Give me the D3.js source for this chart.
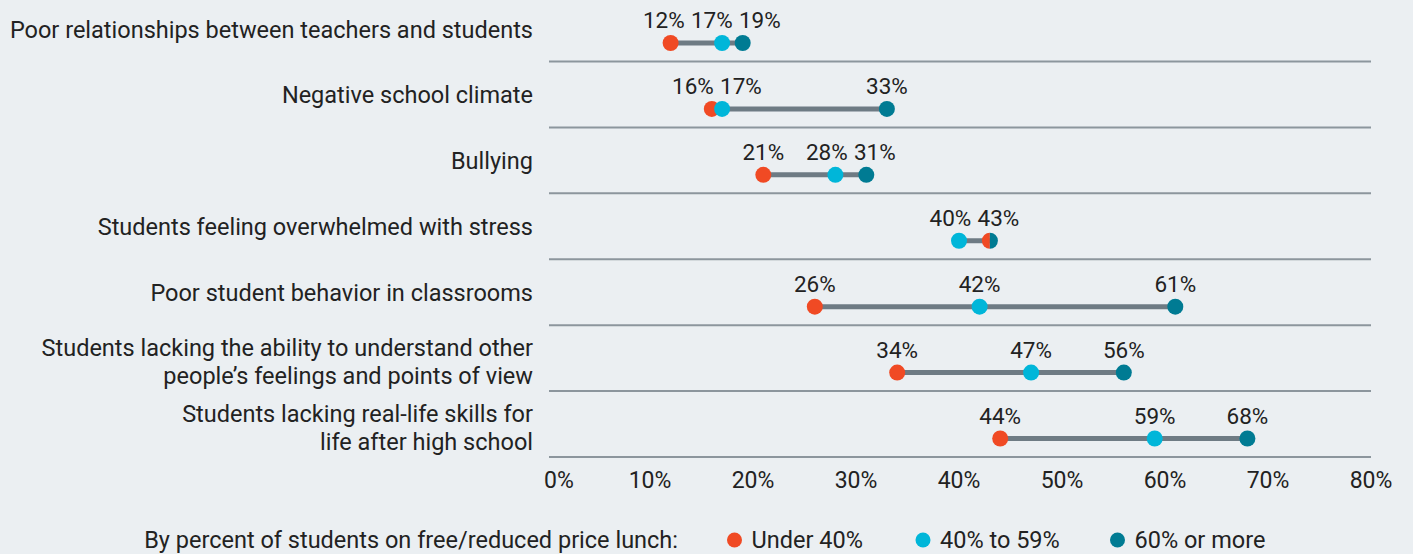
<!DOCTYPE html>
<html>
<head>
<meta charset="utf-8">
<script src="https://cdn.jsdelivr.net/npm/d3@7"></script>
<style>
  html, body { margin: 0; padding: 0; background: #ebeff2; }
  svg { display: block; font-family: Roboto, "Noto Sans", sans-serif; }
</style>
</head>
<body>
<div id="chart"></div>
<script>
// categories (one or two lines each)
var categories = [
  ["Poor relationships between teachers and students"],
  ["Negative school climate"],
  ["Bullying"],
  ["Students feeling overwhelmed with stress"],
  ["Poor student behavior in classrooms"],
  ["Students lacking the ability to understand other", "people\u2019s feelings and points of view"],
  ["Students lacking real-life skills for", "life after high school"]
]
// percent of schools, by share of students on free/reduced lunch
var under40 = [12, 16, 21, 43, 26, 34, 44]
var from40to59 = [17, 17, 28, 40, 42, 47, 59]
var over60 = [19, 33, 31, 43, 61, 56, 68]

var seriesNames = ["Under 40%", "40% to 59%", "60% or more"]
var seriesColors = ["#f04a24", "#00b6d9", "#007b93"]
var ticks = [0, 10, 20, 30, 40, 50, 60, 70, 80]
var legendTitle = "By percent of students on free/reduced price lunch:"

var width = 1413, height = 554

var svg = d3.select("#chart").append("svg")
  .attr("width", width)
  .attr("height", height)

var x = d3.scaleLinear().domain([0, 80]).range([547, 1371])
var y = d3.scalePoint().domain(d3.range(categories.length)).range([43, 438.5])

var rows = categories.map(function(c, i) {
  return {
    i: i,
    label: c,
    vals: [under40[i], from40to59[i], over60[i]]
  }
})

// gridlines under each row
svg.selectAll(".grid").data(rows).enter().append("line")
  .attr("x1", 549).attr("x2", x(80))
  .attr("y1", function(d) { return y(d.i) + 18.5 })
  .attr("y2", function(d) { return y(d.i) + 18.5 })
  .attr("stroke", "#8c969d").attr("stroke-width", 2)

// category labels
var labs = svg.selectAll(".cat").data(rows).enter().append("text")
  .attr("text-anchor", "end")
  .attr("font-size", 23.5)
  .attr("fill", "#222")
labs.selectAll("tspan").data(function(d) {
    return d.label.map(function(t, k) { return { t: t, k: k, n: d.label.length, i: d.i } })
  }).enter().append("tspan")
  .attr("x", 533)
  .attr("y", function(d) {
    var off = d.n > 1 ? -2.5 : -5.5
    return y(d.i) + off + (d.k - (d.n - 1) / 2) * 27.6
  })
  .text(function(d) { return d.t })

// connecting bars
svg.selectAll(".bar").data(rows).enter().append("line")
  .attr("x1", function(d) { return x(d3.min(d.vals)) })
  .attr("x2", function(d) { return x(d3.max(d.vals)) })
  .attr("y1", function(d) { return y(d.i) })
  .attr("y2", function(d) { return y(d.i) })
  .attr("stroke", "#6e7b84").attr("stroke-width", 5)

// dots -- if two series share a value draw each as half of the same circle
var r = 8
rows.forEach(function(row) {
  var groups = d3.groups(row.vals.map(function(v, s) { return { v: v, s: s } }), function(d) { return d.v })
  groups.forEach(function(g) {
    var items = g[1]
    var cx = x(g[0]), cy = y(row.i)
    if (items.length == 1) {
      svg.append("circle").attr("cx", cx).attr("cy", cy).attr("r", r)
        .attr("fill", seriesColors[items[0].s])
    } else {
      var n = items.length
      items.forEach(function(it, k) {
        // first one on the left, next on the right
        var a0 = Math.PI + k * 2 * Math.PI / n, a1 = Math.PI + (k + 1) * 2 * Math.PI / n
        svg.append("path")
          .attr("d", d3.arc().innerRadius(0).outerRadius(r).startAngle(a0).endAngle(a1)())
          .attr("transform", "translate(" + cx + "," + cy + ")")
          .attr("fill", seriesColors[it.s])
      })
    }
  })

  // value labels, spread apart so they don't overlap
  var uniq = Array.from(new Set(row.vals)).sort(d3.ascending)
  var gap = 48
  var clusters = uniq.map(function(v) { return { vals: [v], pos: x(v) } })
  var moved = true
  while (moved) {
    moved = false
    for (var k = 0; k < clusters.length - 1; k++) {
      var a = clusters[k], b = clusters[k + 1]
      var aEnd = a.pos + (a.vals.length - 1) / 2 * gap
      var bStart = b.pos - (b.vals.length - 1) / 2 * gap
      if (bStart - aEnd < gap) {
        var all = a.vals.concat(b.vals)
        clusters.splice(k, 2, { vals: all, pos: d3.mean(all, function(v) { return x(v) }) })
        moved = true
        break
      }
    }
  }
  clusters.forEach(function(c) {
    c.vals.forEach(function(v, k) {
      svg.append("text")
        .attr("x", c.pos + (k - (c.vals.length - 1) / 2) * gap)
        .attr("y", y(row.i) - 15)
        .attr("text-anchor", "middle")
        .attr("font-size", 22.5)
        .attr("fill", "#222")
        .text(v + "%")
    })
  })
})

// x axis tick labels
svg.selectAll(".tick").data(ticks).enter().append("text")
  .attr("x", function(d, i) { return i == 0 ? x(d) - 3 : x(d) })
  .attr("y", 488)
  .attr("text-anchor", function(d, i) { return i == 0 ? "start" : "middle" })
  .attr("font-size", 23)
  .attr("fill", "#222")
  .text(function(d) { return d + "%" })

// legend
var ly = 540
svg.append("text").attr("x", 678).attr("y", ly + 8)
  .attr("text-anchor", "end").attr("font-size", 23.5).attr("fill", "#222")
  .text(legendTitle)
var legX = [734.5, 923, 1117.5]
var leg = svg.selectAll(".leg").data(seriesNames).enter().append("g")
  .attr("transform", function(d, i) { return "translate(" + legX[i] + "," + ly + ")" })
leg.append("circle").attr("r", 7.5).attr("fill", function(d, i) { return seriesColors[i] })
leg.append("text").attr("x", 17).attr("y", 8)
  .attr("font-size", 23.5).attr("fill", "#222")
  .text(function(d) { return d })
</script>
</body>
</html>
